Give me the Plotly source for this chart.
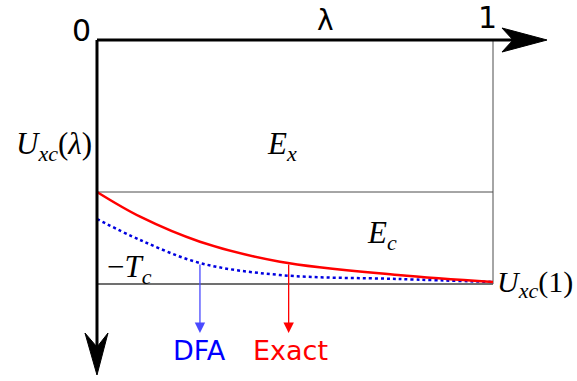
import plotly.graph_objects as go

# Adiabatic connection: coupling constant lambda and energies (arbitrary units, U points down)
lam_exact = [0.0, 0.109, 0.26, 0.462, 0.76, 1.0]
u_exact = [-1.52, -1.767, -2.017, -2.217, -2.35, -2.42]
lam_dfa = [0.0, 0.109, 0.26, 0.462, 0.76, 1.0]
u_dfa = [-1.79, -2.00, -2.23, -2.35, -2.39, -2.42]
E_x = -1.52          # U_xc(0)
U_xc1 = -2.44        # U_xc(1)
lam_end = 1.0
arrow_dfa_lam = 0.26
arrow_exact_lam = 0.484

GRAY = "#4d4d4d"
fig = go.Figure()

# box: E_x level, U_xc(1) level and right edge at lambda = 1
fig.add_trace(go.Scatter(x=[0, lam_end], y=[E_x, E_x], mode="lines",
                         line=dict(color=GRAY, width=1), hoverinfo="skip"))
fig.add_trace(go.Scatter(x=[0, lam_end], y=[U_xc1, U_xc1], mode="lines",
                         line=dict(color="#707070", width=2), hoverinfo="skip"))
fig.add_trace(go.Scatter(x=[lam_end, lam_end], y=[0, U_xc1], mode="lines",
                         line=dict(color=GRAY, width=1), hoverinfo="skip"))

# curves
fig.add_trace(go.Scatter(x=lam_dfa, y=u_dfa, mode="lines", line_shape="spline",
                         line=dict(color="#0000e0", width=2.5, dash="dot"), hoverinfo="skip"))
fig.add_trace(go.Scatter(x=lam_exact, y=u_exact, mode="lines", line_shape="spline",
                         line=dict(color="#ff0000", width=2.5), hoverinfo="skip"))

# main axes drawn as thick arrows
fig.add_trace(go.Scatter(x=[0, 1.06], y=[0, 0], mode="lines",
                         line=dict(color="black", width=3), hoverinfo="skip"))
fig.add_trace(go.Scatter(x=[0, 0], y=[0, -3.1], mode="lines",
                         line=dict(color="black", width=3), hoverinfo="skip"))
fig.add_trace(go.Scatter(x=[1.0227, 1.1364, 1.0227, 1.0505, 1.0227],
                         y=[0.12, 0, -0.12, 0, 0.12], mode="lines", fill="toself",
                         fillcolor="black", line=dict(color="black", width=1), hoverinfo="skip"))
fig.add_trace(go.Scatter(x=[-0.0303, 0, 0.0278, 0, -0.0303],
                         y=[-2.93, -3.07, -2.93, -3.35, -2.93], mode="lines", fill="toself",
                         fillcolor="black", line=dict(color="black", width=1), hoverinfo="skip"))

annotations = []
# pointer arrows to the DFA and exact curves
def pointer(lam, y_start, color):
    return dict(x=lam, y=-2.93, ax=lam, ay=y_start, xref="x", yref="y",
                axref="x", ayref="y", showarrow=True, arrowhead=2, arrowsize=1.6,
                arrowwidth=1.3, arrowcolor=color, text="")

annotations.append(pointer(arrow_dfa_lam, u_dfa[2], "#4a4aff"))
annotations.append(pointer(arrow_exact_lam, -2.23, "#ff0000"))

SANS = "DejaVu Sans"
SERIF = "Liberation Serif"
def label(x, y, text, size, font, color="black", xanchor="center"):
    return dict(x=x, y=y, xref="x", yref="y", text=text, showarrow=False,
                font=dict(family=font, size=size, color=color),
                xanchor=xanchor, yanchor="middle")

def sub(s):
    return "<sub><span style='font-size:22px'><i>" + s + "</i></span></sub>"

annotations += [
    label(-0.040, 0.10, "0", 30, SANS),
    label(0.987, 0.23, "1", 30, SANS),
    label(0.576, 0.20, "λ", 28, SANS),
    label(-0.109, -1.06, "<i>U</i>" + sub("xc") + "(<i>λ</i>)", 31, SERIF),
    label(0.467, -1.06, "<i>E</i>" + sub("x"), 31, SERIF),
    label(0.720, -1.95, "<i>E</i>" + sub("c"), 31, SERIF),
    label(0.083, -2.29, "−<i>T</i>" + sub("c"), 31, SERIF),
    label(1.006, -2.44, "<i>U</i>" + sub("xc") + "(1)", 30, SERIF, xanchor="left"),
    label(arrow_dfa_lam, -3.10, "DFA", 27, SANS, color="#0000ff"),
    label(arrow_exact_lam + 0.005, -3.10, "Exact", 27, SANS, color="#ff0000"),
]

fig.update_layout(
    width=577, height=381, margin=dict(l=0, r=0, t=0, b=0),
    plot_bgcolor="white", paper_bgcolor="white", showlegend=False,
    xaxis=dict(range=[-0.2449, 1.2121], visible=False, fixedrange=True),
    yaxis=dict(range=[-3.41, 0.40], visible=False, fixedrange=True),
    annotations=annotations,
)

fig.write_html("out.html")
